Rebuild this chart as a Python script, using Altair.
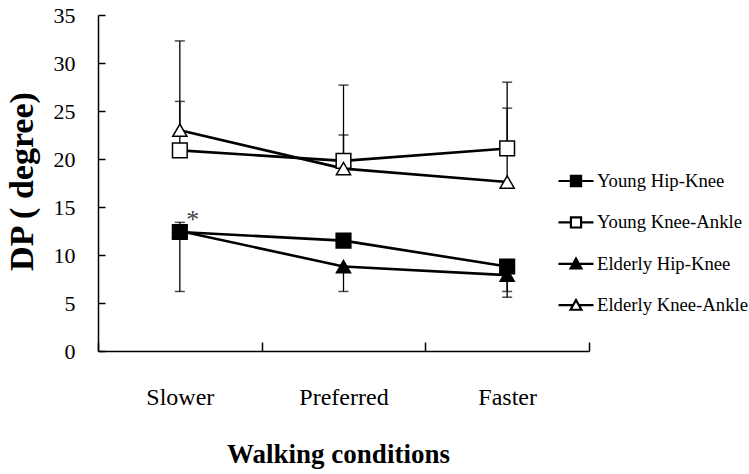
import altair as alt
import pandas as pd

# Walking conditions (x categories) and the four plotted series
conditions = ["Slower", "Preferred", "Faster"]
series_names = ["Young Hip-Knee", "Young Knee-Ankle", "Elderly Hip-Knee", "Elderly Knee-Ankle"]
series_fill = ["black", "white", "black", "white"]
series_shape = ["square", "square", "triangle-up", "triangle-up"]

# Mean DP (degree) per condition
young_hip_knee = [12.4, 11.5, 8.8]
young_knee_ankle = [20.9, 19.8, 21.1]
elderly_hip_knee = [12.5, 8.8, 7.9]
elderly_knee_ankle = [23.0, 19.0, 17.6]

# End point of the one-sided SD whisker for each mean (None = no whisker)
young_hip_knee_sd_end = [6.2, None, 6.2]
young_knee_ankle_sd_end = [26.0, 22.5, 28.0]
elderly_hip_knee_sd_end = [13.4, 6.2, 5.6]
elderly_knee_ankle_sd_end = [32.3, 27.7, 25.3]

# Significance marker
sig_condition = ["Slower"]
sig_value = [12.4]
sig_text = ["*"]

means = [young_hip_knee, young_knee_ankle, elderly_hip_knee, elderly_knee_ankle]
ends = [young_hip_knee_sd_end, young_knee_ankle_sd_end,
        elderly_hip_knee_sd_end, elderly_knee_ankle_sd_end]

rows = []
for name, m, e in zip(series_names, means, ends):
    for c, v, end in zip(conditions, m, e):
        rows.append({"condition": c, "series": name, "dp": v, "sd_end": end})
df = pd.DataFrame(rows)
err_df = df.dropna(subset=["sd_end"])
sig_df = pd.DataFrame({"condition": sig_condition, "dp": sig_value, "label": sig_text})

FONT = "Liberation Serif"

x_axis = alt.Axis(
    title="Walking conditions",
    labelAngle=0,
    tickBand="extent",
    tickSize={"expr": "-9"},
    tickColor="black",
    tickWidth=1.5,
    domainColor="black",
    domainWidth=1.5,
    labelFont=FONT,
    labelFontSize=24,
    labelColor="black",
    labelPadding=43,
    titleFont=FONT,
    titleFontSize=27,
    titleFontWeight="bold",
    titleColor="black",
    titleX=240,
    titleY=111,
    titleBaseline="alphabetic",
)
y_axis = alt.Axis(
    title="DP ( degree)",
    values=list(range(0, 36, 5)),
    grid=False,
    tickSize={"expr": "-7"},
    tickColor="black",
    tickWidth=1.5,
    domainColor="black",
    domainWidth=1.5,
    labelFont=FONT,
    labelFontSize=22,
    labelColor="black",
    labelPadding=30,
    titleFont=FONT,
    titleFontSize=34,
    titleFontWeight="bold",
    titleColor="black",
    titleX=-76,
    titleY=166,
    titleBaseline="middle",
)
x_scale = alt.Scale(type="band", paddingInner=0, paddingOuter=0)
y_scale = alt.Scale(domain=[0, 35], nice=False)


def x_enc():
    return alt.X("condition:N", sort=conditions, scale=x_scale, axis=x_axis)


def y_enc(field="dp"):
    return alt.Y(f"{field}:Q", scale=y_scale, axis=y_axis, title="DP ( degree)")


base = alt.Chart(df)

lines = base.mark_line(color="black", strokeWidth=2.6).encode(
    x=x_enc(), y=y_enc(), detail="series:N"
)

whiskers = alt.Chart(err_df).mark_rule(color="black", strokeWidth=1.3).encode(
    x=x_enc(), y=y_enc(), y2="sd_end:Q",
)
caps = alt.Chart(err_df).mark_tick(color="black", thickness=1.5, size=10).encode(
    x=x_enc(), y=y_enc("sd_end"),
)

# Markers: one layer per series with its own shape and fill
marker_layers = []
for name, fill, shape in zip(series_names, series_fill, series_shape):
    marker_layers.append(
        base.transform_filter(alt.datum.series == name)
        .mark_point(shape=shape, size=215 if shape == "square" else 200,
                    filled=True, fill=fill, stroke="black", strokeWidth=1.5, opacity=1)
        .encode(x=x_enc(), y=y_enc())
    )

# Legend symbols: a short line with the marker in the middle
square_key = "M-1,0H-0.3M0.3,0H1M-0.29,-0.29H0.29V0.29H-0.29Z"
triangle_key = "M-1,0H-0.17M0.17,0H1M0,-0.3L0.31,0.26H-0.31Z"
series_key = [square_key if s == "square" else triangle_key for s in series_shape]

legend_cfg = alt.Legend(
    title=None,
    orient="none",
    legendX=459,
    legendY=147,
    padding=0,
    symbolOffset=0,
    symbolSize=1225,
    symbolStrokeWidth=2.2,
    symbolOpacity=1,
    rowPadding=12.4,
    labelOffset=2,
    labelFont=FONT,
    labelFontSize=18.7,
    labelColor="black",
    labelLimit=300,
)

# Zero-size points that only carry the legend (shape, fill and stroke merge into one)
legend_layer = base.mark_point(size=0, filled=True, strokeWidth=2).encode(
    x=x_enc(), y=y_enc(),
    shape=alt.Shape("series:N",
                    scale=alt.Scale(domain=series_names, range=series_key),
                    legend=legend_cfg),
    fill=alt.Fill("series:N",
                  scale=alt.Scale(domain=series_names, range=series_fill),
                  legend=legend_cfg),
    stroke=alt.Stroke("series:N",
                      scale=alt.Scale(domain=series_names, range=["black"] * 4),
                      legend=legend_cfg),
)

asterisk = alt.Chart(sig_df).mark_text(
    font=FONT, fontSize=26, color="#444444", dx=13, dy=-4, baseline="alphabetic"
).encode(
    x=x_enc(), y=y_enc(), text="label:N",
)

chart = alt.layer(
    lines, whiskers, caps, *marker_layers, legend_layer, asterisk
).properties(
    width=491,
    height=336,
    autosize=alt.AutoSizeParams(type="none"),
    padding={"left": 98, "top": 15, "right": 160, "bottom": 123},
    background="white",
).configure_view(strokeWidth=0)

chart.save("out.html", embed_options={"renderer": "svg", "actions": False})
